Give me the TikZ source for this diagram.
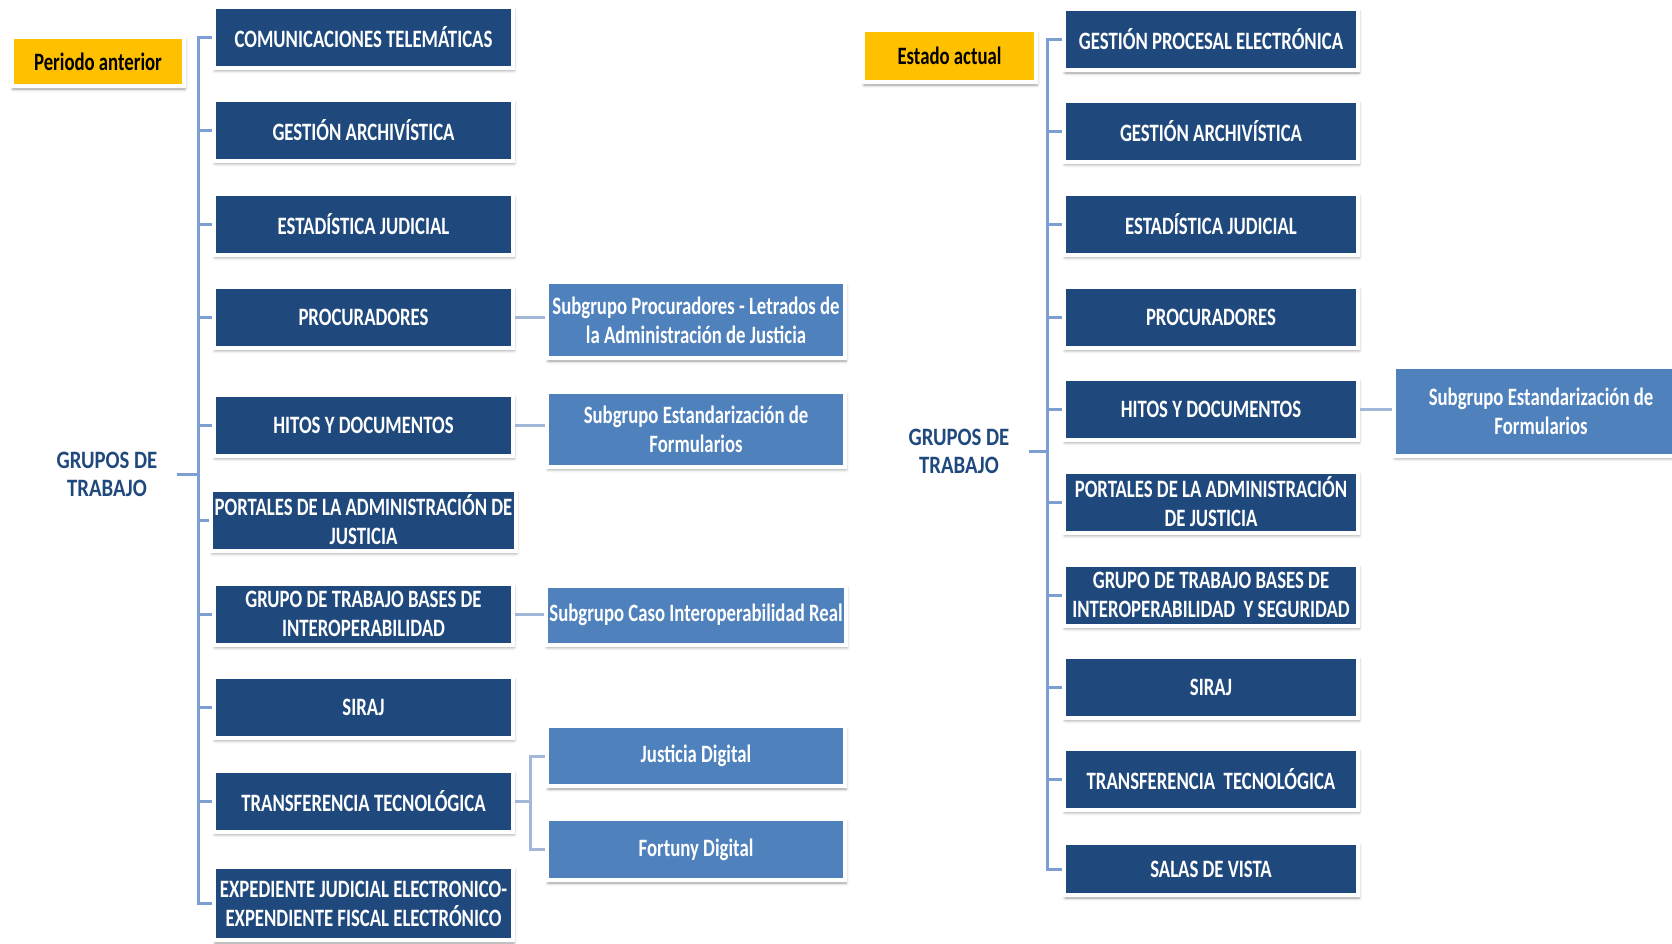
\documentclass[tikz,border=0pt]{standalone}
\usepackage{fontspec}
\setmainfont{Carlito}[FakeStretch=0.75]
\newfontfamily\titlefont{Carlito}[FakeStretch=0.83]
\usetikzlibrary{shadows.blur}
\definecolor{darkbox}{HTML}{1F497D}
\definecolor{lightbox}{HTML}{4F81BD}
\definecolor{goldbox}{HTML}{FFC000}
\definecolor{trunkblue}{HTML}{7C9ED2}
\definecolor{stubblue}{HTML}{A3B8D8}

\begin{document}
\begin{tikzpicture}[x=1pt,y=-1pt]
\tikzset{group/.style = {rectangle, fill=darkbox, draw=white, line width=4pt,
  minimum width=299pt, minimum height=61pt, align=center, text=white,
  font=\bfseries\fontsize{25}{29}\selectfont,
  blur shadow={shadow xshift=1pt, shadow yshift=-3pt, shadow blur radius=3pt, shadow opacity=40}}}
\tikzset{subgroup/.style = {group, fill=lightbox, minimum width=298pt}}
\tikzset{period/.style = {group, fill=goldbox, text=black, minimum width=172pt, minimum height=49pt}}
\tikzset{title/.style = {align=center, text=darkbox, inner xsep=19pt,
  font=\titlefont\bfseries\fontsize{25}{28}\selectfont}}
\tikzset{trunk/.style = {draw=trunkblue, line width=3pt}}
\tikzset{stub/.style = {draw=stubblue, line width=3pt}}
\useasboundingbox (0,0) rectangle (1672,943);
%% periodo anterior
\node[period] (pa) at (98,61.5) {Periodo anterior};
\node[title] (gl) at (107,474.5) {GRUPOS DE\\TRABAJO};
\coordinate (lt) at (198,474.5);
\node[group] (l1) at (363.5,37) {COMUNICACIONES TELEMÁTICAS};
\node[group] (l2) at (363.5,130) {GESTIÓN ARCHIVÍSTICA};
\node[group] (l3) at (363.5,224) {ESTADÍSTICA JUDICIAL};
\node[group] (l4) at (363.5,317) {PROCURADORES};
\node[group] (l5) at (363.5,425) {HITOS Y DOCUMENTOS};
\node[group] (l6) at (363.5,520) {PORTALES DE LA ADMINISTRACIÓN DE\\JUSTICIA};
\node[group] (l7) at (363.5,614) {GRUPO DE TRABAJO BASES DE\\INTEROPERABILIDAD};
\node[group] (l8) at (363.5,707) {SIRAJ};
\node[group] (l9) at (363.5,801) {TRANSFERENCIA TECNOLÓGICA};
\node[group, minimum height=73pt] (l10) at (363.5,903.5) {EXPEDIENTE JUDICIAL ELECTRONICO-\\EXPENDIENTE FISCAL ELECTRÓNICO};
\node[subgroup, minimum height=76pt] (s4) at (696,320) {Subgrupo Procuradores - Letrados de\\la Administración de Justicia};
\node[subgroup, minimum height=75pt] (s5) at (696,429) {Subgrupo Estandarización de\\Formularios};
\node[subgroup, minimum height=59pt] (s7) at (696,615) {Subgrupo Caso Interoperabilidad Real};
\node[subgroup, minimum height=60pt] (s9a) at (696,756) {Justicia Digital};
\node[subgroup, minimum height=61pt] (s9b) at (696,849.5) {Fortuny Digital};
\coordinate (tb) at (530,801);
\draw[trunk] (gl.east) -- (lt)
  (lt) |- (l1.west) (lt) |- (l2.west) (lt) |- (l3.west) (lt) |- (l4.west)
  (lt) |- (l5.west) (lt) |- (l6.west) (lt) |- (l7.west) (lt) |- (l8.west)
  (lt) |- (l9.west) (lt) |- (l10.west);
\draw[stub] (l4.east) -- (l4.east -| s4.west)
  (l5.east) -- (l5.east -| s5.west)
  (l7.east) -- (l7.east -| s7.west)
  (l9.east) -- (tb) |- (s9a.west)
  (tb) |- (s9b.west);
%% estado actual
\node[period, minimum width=173pt, minimum height=52pt] (ea) at (949.5,56) {Estado actual};
\node[title] (gr) at (959,451) {GRUPOS DE\\TRABAJO};
\coordinate (rt) at (1047,451);
\node[group, minimum width=294pt] (r1) at (1211,39.5) {GESTIÓN PROCESAL ELECTRÓNICA};
\node[group, minimum width=294pt] (r2) at (1211,131) {GESTIÓN ARCHIVÍSTICA};
\node[group, minimum width=294pt] (r3) at (1211,224) {ESTADÍSTICA JUDICIAL};
\node[group, minimum width=294pt] (r4) at (1211,317) {PROCURADORES};
\node[group, minimum width=294pt] (r5) at (1211,409) {HITOS Y DOCUMENTOS};
\node[group, minimum width=294pt] (r6) at (1211,502) {PORTALES DE LA ADMINISTRACIÓN\\DE JUSTICIA};
\node[group, minimum width=294pt] (r7) at (1211,595) {GRUPO DE TRABAJO BASES DE\\INTEROPERABILIDAD\ \ Y SEGURIDAD};
\node[group, minimum width=294pt] (r8) at (1211,687) {SIRAJ};
\node[group, minimum width=294pt] (r9) at (1211,779) {TRANSFERENCIA\ \ TECNOLÓGICA};
\node[group, minimum width=294pt, minimum height=52pt] (r10) at (1211,869) {SALAS DE VISTA};
\node[subgroup, minimum width=294pt, minimum height=89pt] (rs5) at (1541,411) {Subgrupo Estandarización de\\Formularios};
\draw[trunk] (gr.east) -- (rt)
  (rt) |- (r1.west) (rt) |- (r2.west) (rt) |- (r3.west) (rt) |- (r4.west)
  (rt) |- (r5.west) (rt) |- (r6.west) (rt) |- (r7.west) (rt) |- (r8.west)
  (rt) |- (r9.west) (rt) |- (r10.west);
\draw[stub] (r5.east) -- (r5.east -| rs5.west);
\end{tikzpicture}
\end{document}
